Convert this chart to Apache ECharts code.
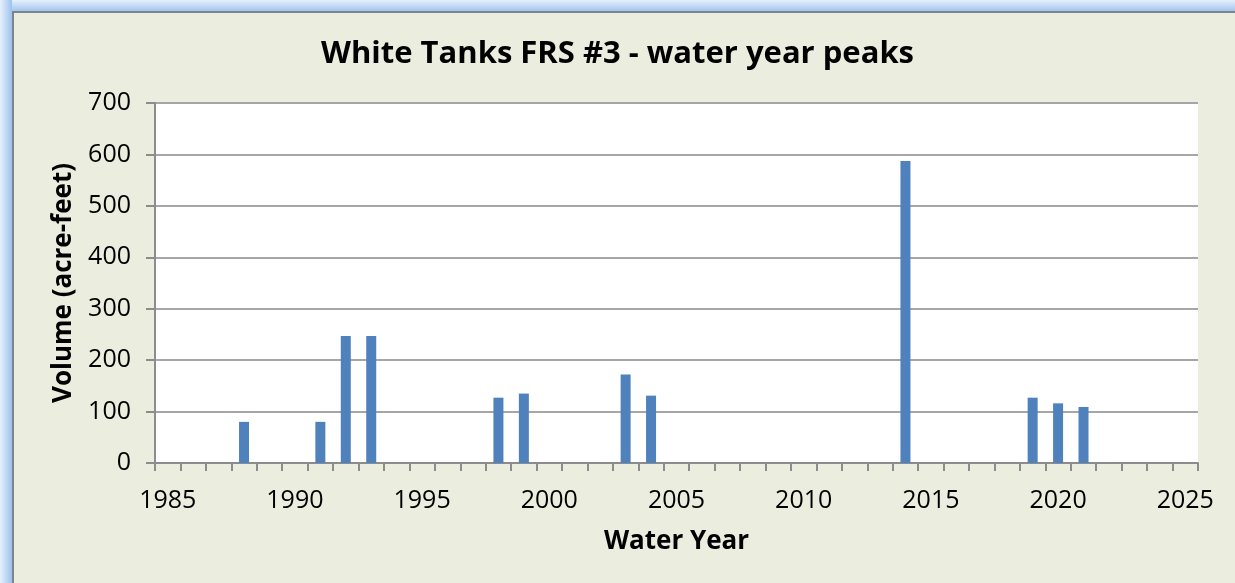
<!DOCTYPE html>
<html>
<head>
<meta charset="utf-8">
<script src="https://cdn.jsdelivr.net/npm/echarts@6/dist/echarts.min.js"></script>
<style>
html,body{margin:0;padding:0;background:#EBEEDE;}
#c{width:1235px;height:583px;}
</style>
</head>
<body>
<div id="c"></div>
<script>
const title = 'White Tanks FRS #3 - water year peaks';
const xAxisTitle = 'Water Year';
const yAxisTitle = 'Volume (acre-feet)';
const peakYears = [1988, 1991, 1992, 1993, 1998, 1999, 2003, 2004, 2014, 2019, 2020, 2021];
const peakVolumes = [80, 80, 247, 247, 127, 135, 172, 131, 587, 127, 116, 109];
const yearStart = 1985;
const yearEnd = 2025;

const categories = [];
for (let y = yearStart; y <= yearEnd; y++) categories.push(String(y));
const barData = categories.map(c => {
  const i = peakYears.indexOf(Number(c));
  return i >= 0 ? peakVolumes[i] : null;
});

const font = 'Open Sans';
const axisGray = '#8C8C8C';
const chart = echarts.init(document.getElementById('c'));
chart.setOption({
  backgroundColor: '#EBEEDE',
  animation: false,
  title: {
    text: title, left: 'center', top: 34,
    textStyle: {fontFamily: font, fontWeight: 'bold', fontSize: 31, color: '#000'}
  },
  graphic: [
    {type: 'rect', shape: {x: 0, y: 0, width: 1235, height: 12}, style: {fill: new echarts.graphic.LinearGradient(0,0,0,1,[{offset:0,color:'#E6F0FB'},{offset:1,color:'#9CC2EE'}])}, silent: true},
    {type: 'rect', shape: {x: 0, y: 0, width: 12, height: 583}, style: {fill: new echarts.graphic.LinearGradient(0,0,1,0,[{offset:0,color:'#E6F0FB'},{offset:1,color:'#9CC2EE'}])}, silent: true},
    {type: 'rect', shape: {x: 12, y: 11, width: 1223, height: 2}, style: {fill: '#7E848C'}, silent: true},
    {type: 'rect', shape: {x: 12, y: 11, width: 2, height: 572}, style: {fill: '#7E848C'}, silent: true}
  ],
  grid: {left: 155, top: 103, right: 37, bottom: 120, containLabel: false, show: true, backgroundColor: '#FFFFFF', borderWidth: 0},
  xAxis: {
    type: 'category', data: categories, boundaryGap: true,
    name: xAxisTitle, nameLocation: 'middle', nameGap: 66,
    nameTextStyle: {fontFamily: font, fontWeight: 'bold', fontSize: 26, color: '#000'},
    axisLine: {show: true, lineStyle: {color: axisGray, width: 2}},
    axisTick: {show: true, interval: 0, length: 8, lineStyle: {color: axisGray, width: 2}},
    splitLine: {show: false},
    axisLabel: {interval: 4, fontFamily: font, fontSize: 25, color: '#000', margin: 25}
  },
  yAxis: {
    type: 'value', min: 0, max: 700, interval: 100,
    name: yAxisTitle, nameLocation: 'middle', nameGap: 78,
    nameTextStyle: {fontFamily: font, fontWeight: 'bold', fontSize: 26, color: '#000'},
    axisLine: {show: true, lineStyle: {color: axisGray, width: 2}},
    axisTick: {show: true, length: 9, lineStyle: {color: axisGray, width: 2}},
    splitLine: {show: true, lineStyle: {color: '#A6A6A6', width: 2}},
    axisLabel: {fontFamily: font, fontSize: 25, color: '#000', margin: 24}
  },
  series: [{
    type: 'bar', data: barData, barWidth: 10,
    itemStyle: {color: '#4F81BD'}
  }]
});
</script>
</body>
</html>
